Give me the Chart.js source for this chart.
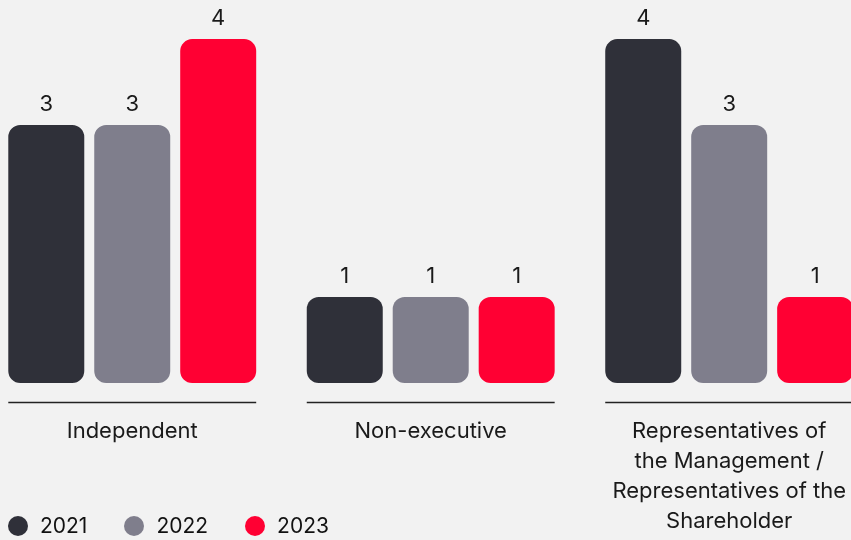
<!DOCTYPE html>
<html>
<head>
<meta charset="utf-8">
<script src="https://cdn.jsdelivr.net/npm/chart.js@4.4.1/dist/chart.umd.min.js"></script>
<style>
    html, body { margin: 0; padding: 0; background: #f2f2f2; overflow: hidden; }
    body { width: 851px; height: 540px; position: relative; font-family: 'Inter', sans-serif; }
    #wrap { position: absolute; left: -17px; top: 0; width: 896px; height: 574px; }
    .legend { position: absolute; left: 8px; top: 513px; display: flex; align-items: center; color: #111; font-size: 21px; }
    .legend span.item { display: flex; align-items: center; margin-right: 37px; }
    .legend i { width: 20px; height: 20px; border-radius: 50%; display: inline-block; margin-right: 12px; }
</style>
</head>
<body>
<div id="wrap"><canvas id="boardChart" width="896" height="574"></canvas></div>
<div class="legend" id="legend"></div>
<script>
const categories = [
    'Independent',
    'Non-executive',
    ['Representatives of', 'the Management /', 'Representatives of the', 'Shareholder']
];
const years = ['2021', '2022', '2023'];
const values2021 = [3, 1, 4];
const values2022 = [3, 1, 3];
const values2023 = [4, 1, 1];
const colors = ['#2f3039', '#7f7e8c', '#ff0033'];

document.addEventListener('DOMContentLoaded', () => {
    const ctx = document.getElementById('boardChart').getContext('2d');
    const font = "'Inter', sans-serif";

    // value labels above bars + separate baseline under each group
    const barExtras = {
        id: 'barExtras',
        afterDatasetsDraw(chart) {
            const c = chart.ctx;
            const metas = chart.data.datasets.map((d, i) => chart.getDatasetMeta(i));
            c.save();
            c.font = '22px ' + font;
            c.fillStyle = '#1a1a1a';
            c.textAlign = 'center';
            c.textBaseline = 'middle';
            metas.forEach((meta, di) => {
                meta.data.forEach((bar, i) => {
                    c.fillText(String(chart.data.datasets[di].data[i]), bar.x, bar.y - 21);
                });
            });
            const first = metas[0].data, last = metas[metas.length - 1].data;
            c.strokeStyle = '#222';
            c.lineWidth = 1.3;
            first.forEach((bar, i) => {
                const y = Math.round(bar.base + 19) + 0.5;
                c.beginPath();
                c.moveTo(bar.x - bar.width / 2, y);
                c.lineTo(last[i].x + last[i].width / 2, y);
                c.stroke();
            });
            c.restore();
        }
    };

    new Chart(ctx, {
        type: 'bar',
        data: {
            labels: categories,
            datasets: [values2021, values2022, values2023].map((vals, i) => ({
                label: years[i],
                data: vals,
                backgroundColor: colors[i],
                borderRadius: 12,
                borderSkipped: false,
                categoryPercentage: 0.864,
                barPercentage: 0.884
            }))
        },
        options: {
            responsive: false,
            animation: false,
            layout: { padding: { top: 0, left: 0, right: 0, bottom: 5 } },
            plugins: {
                legend: { display: false },
                tooltip: { enabled: false }
            },
            scales: {
                y: {
                    display: false,
                    min: 0,
                    max: 4.455
                },
                x: {
                    grid: { display: false, drawTicks: false },
                    border: { display: false },
                    ticks: {
                        color: '#1a1a1a',
                        font: { family: font, size: 22, lineHeight: 30 / 22 },
                        padding: 33,
                        autoSkip: false,
                        maxRotation: 0
                    }
                }
            }
        },
        plugins: [barExtras]
    });

    // legend
    const legend = document.getElementById('legend');
    years.forEach((y, i) => {
        const item = document.createElement('span');
        item.className = 'item';
        item.innerHTML = '<i style="background:' + colors[i] + '"></i>' + y;
        legend.appendChild(item);
    });
});
</script>
</body>
</html>
